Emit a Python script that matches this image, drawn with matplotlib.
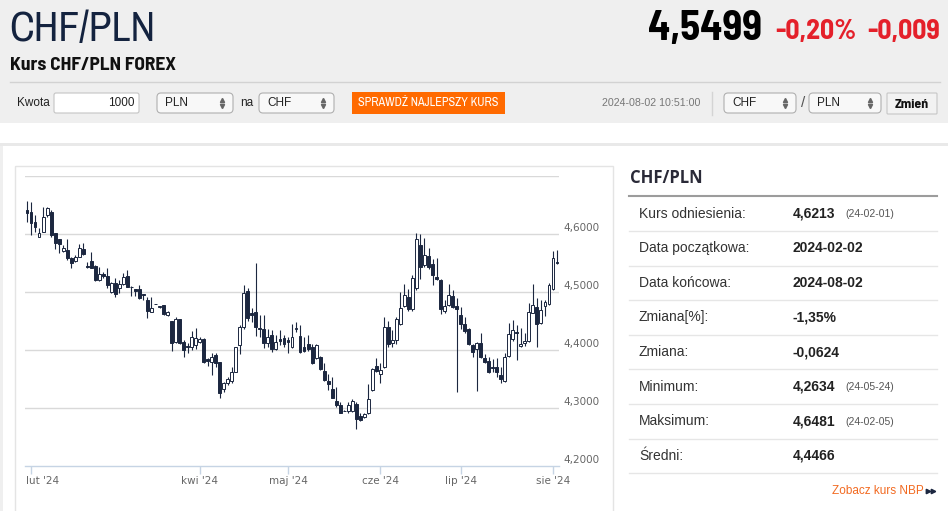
import matplotlib
matplotlib.use('Agg')
import matplotlib.pyplot as plt
from matplotlib.patches import Rectangle, FancyBboxPatch
import numpy as np
import pandas as pd

# ---------------- data ----------------
dates = pd.bdate_range('2024-01-31', '2024-08-02')

opens = [4.6414, 4.6385, 4.6213, 4.5954, 4.6040, 4.6328, 4.6385, 4.6011, 4.5908, 4.5707,
         4.5724, 4.5580, 4.5540, 4.5609, 4.5736, 4.5448, 4.5540, 4.5448, 4.5207, 4.5305,
         4.5276, 4.5006, 4.5161, 4.5063, 4.5138, 4.5276, 4.5092, 4.5046, 4.5046, 4.4960,
         4.4862, 4.4661, 4.4795, 4.4736, 4.4776, 4.4603, 4.4500, 4.4144, 4.4540, 4.4144,
         4.4075, 4.4058, 4.4086, 4.4144, 4.4184, 4.3839, 4.3799, 4.3914, 4.3787, 4.3322,
         4.3437, 4.3471, 4.3626, 4.4086, 4.4391, 4.5023, 4.4644, 4.4649, 4.4374, 4.4362,
         4.4126, 4.4259, 4.4012, 4.4184, 4.4213, 4.4172, 4.4058, 4.4356, 4.4241, 4.4058,
         4.4098, 4.4046, 4.3856, 4.3874, 4.3644, 4.3466, 4.3322, 4.3121, 4.3052, 4.2950,
         4.2954, 4.2948, 4.3069, 4.2862, 4.2851, 4.2908, 4.3310, 4.3724, 4.3586, 4.3713,
         4.4402, 4.4126, 4.4172, 4.4448, 4.4759, 4.4908, 4.4701, 4.5063, 4.5810, 4.5466,
         4.5621, 4.5483, 4.5264, 4.5207, 4.4672, 4.4776, 4.4931, 4.4759, 4.4603, 4.4448,
         4.4356, 4.4086, 4.4012, 4.4126, 4.3868, 4.3810, 4.3713, 4.3701, 4.3569, 4.3471,
         4.3897, 4.4184, 4.4316, 4.4069, 4.4115, 4.4161, 4.4644, 4.4736, 4.4460, 4.4759,
         4.4793, 4.5046, 4.5523]
highs = [4.6569, 4.6546, 4.6328, 4.6098, 4.6471, 4.6471, 4.6414, 4.6023, 4.5920, 4.5810,
         4.5908, 4.5609, 4.5638, 4.5822, 4.5839, 4.5523, 4.5695, 4.5466, 4.5437, 4.5351,
         4.5408, 4.5178, 4.5236, 4.5207, 4.5322, 4.5379, 4.5103, 4.5046, 4.5121, 4.4966,
         4.4908, 4.4920, 4.4800, 4.4765, 4.4776, 4.4678, 4.4500, 4.4575, 4.4540, 4.4172,
         4.4115, 4.4333, 4.4374, 4.4230, 4.4201, 4.3856, 4.3943, 4.3943, 4.3787, 4.3454,
         4.3540, 4.3713, 4.4058, 4.4431, 4.5121, 4.5063, 4.4718, 4.5494, 4.4603, 4.4603,
         4.4362, 4.4345, 4.4259, 4.4345, 4.4259, 4.4230, 4.4448, 4.4489, 4.4431, 4.4230,
         4.4259, 4.4098, 4.4103, 4.3897, 4.3770, 4.3580, 4.3540, 4.3368, 4.3109, 4.2960,
         4.3109, 4.3149, 4.3109, 4.2908, 4.2920, 4.3414, 4.3684, 4.3856, 4.3770, 4.4575,
         4.4506, 4.4345, 4.4575, 4.5006, 4.5138, 4.5046, 4.5293, 4.6011, 4.6000, 4.5925,
         4.5753, 4.5563, 4.5580, 4.5218, 4.4862, 4.5138, 4.5034, 4.4891, 4.4736, 4.4575,
         4.4374, 4.4103, 4.4144, 4.4287, 4.3925, 4.3885, 4.3839, 4.3856, 4.3713, 4.3943,
         4.4460, 4.4517, 4.4431, 4.4374, 4.4299, 4.4805, 4.5138, 4.4891, 4.4862, 4.4862,
         4.5161, 4.5713, 4.5724]
lows = [4.6213, 4.5983, 4.6040, 4.5943, 4.6029, 4.6299, 4.5954, 4.5736, 4.5667, 4.5695,
        4.5552, 4.5408, 4.5523, 4.5598, 4.5638, 4.5420, 4.5408, 4.5195, 4.5195, 4.5236,
        4.5063, 4.4989, 4.4920, 4.4977, 4.5121, 4.5080, 4.4931, 4.4931, 4.4874, 4.4862,
        4.4558, 4.4649, 4.4785, 4.4730, 4.4603, 4.4586, 4.3989, 4.4115, 4.4103, 4.3885,
        4.3943, 4.4000, 4.4012, 4.4115, 4.3782, 4.3730, 4.3569, 4.3713, 4.3167, 4.3282,
        4.3397, 4.3425, 4.3615, 4.3931, 4.4356, 4.4506, 4.4489, 4.4241, 4.4218, 4.4029,
        4.4046, 4.3971, 4.4000, 4.4086, 4.4058, 4.3943, 4.4029, 4.4316, 4.3954, 4.3971,
        4.3989, 4.3753, 4.3839, 4.3655, 4.3471, 4.3310, 4.3167, 4.3023, 4.2908, 4.2940,
        4.2908, 4.2931, 4.2634, 4.2782, 4.2822, 4.2897, 4.3299, 4.3626, 4.3425, 4.3684,
        4.4058, 4.4046, 4.4098, 4.4431, 4.4736, 4.4678, 4.4678, 4.5034, 4.5218, 4.5425,
        4.5391, 4.5121, 4.5207, 4.4621, 4.4644, 4.4759, 4.4718, 4.3282, 4.4356, 4.4299,
        4.4086, 4.3885, 4.3299, 4.3856, 4.3782, 4.3609, 4.3626, 4.3540, 4.3425, 4.3454,
        4.3885, 4.4161, 4.3828, 4.4057, 4.4069, 4.4144, 4.4632, 4.4046, 4.4448, 4.4586,
        4.4776, 4.5034, 4.5483]
closes = [4.6356, 4.6184, 4.6115, 4.6011, 4.6299, 4.6443, 4.5983, 4.5839, 4.5828, 4.5753,
          4.5580, 4.5494, 4.5609, 4.5753, 4.5655, 4.5425, 4.5420, 4.5207, 4.5305, 4.5276,
          4.5121, 4.5161, 4.4966, 4.5132, 4.5264, 4.5092, 4.5080, 4.5023, 4.4891, 4.4943,
          4.4678, 4.4718, 4.4790, 4.4759, 4.4621, 4.4661, 4.4115, 4.4540, 4.4115, 4.4000,
          4.4046, 4.4230, 4.4201, 4.4184, 4.3799, 4.3805, 4.3885, 4.3770, 4.3253, 4.3437,
          4.3494, 4.3626, 4.4046, 4.4402, 4.4989, 4.4546, 4.4603, 4.4391, 4.4362, 4.4115,
          4.4230, 4.4012, 4.4144, 4.4161, 4.4103, 4.4144, 4.4218, 4.4385, 4.3971, 4.3983,
          4.4012, 4.3770, 4.4086, 4.3667, 4.3483, 4.3414, 4.3178, 4.3052, 4.2920, 4.2948,
          4.3052, 4.3121, 4.2805, 4.2793, 4.2897, 4.3149, 4.3667, 4.3644, 4.3655, 4.4402,
          4.4103, 4.4172, 4.4529, 4.4718, 4.4948, 4.4701, 4.5236, 4.5908, 4.5437, 4.5638,
          4.5425, 4.5293, 4.5218, 4.4701, 4.4759, 4.4948, 4.4736, 4.4701, 4.4448, 4.4333,
          4.4103, 4.3971, 4.4126, 4.3885, 4.3799, 4.3626, 4.3690, 4.3626, 4.3494, 4.3874,
          4.4276, 4.4345, 4.4287, 4.4103, 4.4161, 4.4661, 4.4776, 4.4448, 4.4690, 4.4833,
          4.5121, 4.5580, 4.5499]

y_ticks = [4.2, 4.3, 4.4, 4.5, 4.6, 4.7]
y_labeled = [4.2, 4.3, 4.4, 4.5, 4.6]
month_names = {1: 'sty', 2: 'lut', 3: 'mar', 4: 'kwi', 5: 'maj', 6: 'cze',
               7: 'lip', 8: 'sie'}
shown_months = [2, 4, 5, 6, 7, 8]

pair = 'CHF/PLN'
last_price = '4,5499'
change_pct = '-0,20%'
change_abs = '-0,009'
timestamp = '2024-08-02 10:51:00'

stat_labels = ['Kurs odniesienia:', 'Data początkowa:', 'Data końcowa:', 'Zmiana[%]:',
               'Zmiana:', 'Minimum:', 'Maksimum:', 'Średni:']
stat_values = ['4,6213', '2024-02-02', '2024-08-02', '-1,35%', '-0,0624', '4,2634',
               '4,6481', '4,4466']
stat_notes = ['(24-02-01)', '', '', '', '', '(24-05-24)', '(24-02-05)', '']

assert len(opens) == len(highs) == len(lows) == len(closes) == len(dates)

# ---------------- styles ----------------
W, H = 948, 511
NARROW = ['Archivo Narrow', 'Liberation Sans', 'DejaVu Sans']
BOLDN = ['Barlow Semi Condensed', 'Liberation Sans', 'DejaVu Sans']
ARIAL = ['Liberation Sans', 'DejaVu Sans']
DARK = '#1c2740'
ORANGE = '#ff6a00'
RED = '#e4202a'

fig = plt.figure(figsize=(W / 100, H / 100), dpi=100)
fig.patch.set_facecolor('white')

bg = fig.add_axes([0, 0, 1, 1])
bg.set_xlim(0, W)
bg.set_ylim(H, 0)
bg.axis('off')

# header background
bg.add_patch(Rectangle((0, 0), W, 123, fc='#efefef', ec='none'))
bg.add_patch(Rectangle((0, 143), W, 3, fc='#e9e9e9', ec='none'))
bg.add_patch(Rectangle((0, 146), 3, H - 146, fc='#efefef', ec='none'))
bg.add_patch(Rectangle((15, 166), 598, 400, fill=False, ec='#e4e4e4', lw=1))

bg.text(9, 29, pair, family=NARROW, fontsize=30, color='#14233f', va='center', ha='left')
bg.text(762, 29, last_price, family=BOLDN, fontsize=29.5, fontweight='bold', color='#000000',
        va='center', ha='right')
bg.text(857, 31, change_pct, family=BOLDN, fontsize=20, fontweight='bold', color=RED,
        va='center', ha='right')
bg.text(940, 31, change_abs, family=BOLDN, fontsize=20, fontweight='bold', color=RED,
        va='center', ha='right')
bg.text(10, 66, 'Kurs CHF/PLN FOREX', family=BOLDN, fontsize=14, fontweight='bold',
        color='#111111', va='center', ha='left')
bg.plot([10, 940], [82.5, 82.5], color='#d2d2d2', lw=1)

# controls row
def select_box(x0, x1, label):
    bg.add_patch(FancyBboxPatch((x0, 93), x1 - x0, 20,
                                boxstyle='round,pad=0,rounding_size=4',
                                fc='#f8f8f8', ec='#b0b0b0', lw=0.8))
    bg.text(x0 + 8, 103, label, family=ARIAL, fontsize=8.5, color='#222222',
            va='center', ha='left')
    bg.plot([x1 - 11], [100.5], marker='^', ms=3, color='#666666', lw=0)
    bg.plot([x1 - 11], [106], marker='v', ms=3, color='#666666', lw=0)

bg.text(17, 103.5, 'Kwota', family=ARIAL, fontsize=8.5, color='#222222', va='center')
bg.add_patch(FancyBboxPatch((54, 93), 85, 20, boxstyle='round,pad=0,rounding_size=2',
                            fc='white', ec='#c4c4c4', lw=0.8))
bg.text(135, 103.5, '1000', family=ARIAL, fontsize=8.5, color='#222222', va='center',
        ha='right')
select_box(157, 233, 'PLN')
bg.text(240, 103.5, 'na', family=ARIAL, fontsize=8.5, color='#222222', va='center')
select_box(259, 334, 'CHF')
bg.add_patch(Rectangle((352, 92), 153, 22, fc=ORANGE, ec='none'))
bg.text(428.5, 103, 'SPRAWDŹ NAJLEPSZY KURS', family=NARROW, fontsize=8.8, color='white',
        va='center', ha='center')
bg.text(602, 103.5, timestamp, family=ARIAL, fontsize=7.7, color='#777777', va='center')
bg.plot([712, 712], [92, 115], color='#d4d4d4', lw=1)
select_box(724, 796, 'CHF')
bg.text(803, 103, '/', family=ARIAL, fontsize=11, color='#555555', va='center', ha='center')
select_box(809, 881, 'PLN')
bg.add_patch(FancyBboxPatch((887, 93), 50, 21, boxstyle='round,pad=0,rounding_size=1',
                            fc='#f2f2f2', ec='#c6c6c6', lw=0.8))
bg.text(912, 104, 'Zmień', family=BOLDN, fontsize=10, fontweight='bold', color='#111111',
        va='center', ha='center')

# right statistics panel
bg.text(630, 178, pair, family=['Open Sans', 'DejaVu Sans'], fontsize=12, fontweight='bold',
        color='#2a2a38', va='center', ha='left')
bg.plot([629, 937], [196.5, 196.5], color='#9c9c9c', lw=1.5)
for k, (lab, val, note) in enumerate(zip(stat_labels, stat_values, stat_notes)):
    yc = 213.7 + 34.6 * k
    bg.text(639, yc, lab, family=ARIAL, fontsize=10, color='#333333', va='center')
    bg.text(793, yc, val, family=ARIAL, fontsize=10, fontweight='bold', color='#222222',
            va='center')
    if note:
        bg.text(845, yc + 0.5, note, family=ARIAL, fontsize=7.5, color='#555555',
                va='center')
    bg.plot([629, 937], [231 + 34.6 * k] * 2, color='#e6e6e6', lw=1)
bg.text(924, 491, 'Zobacz kurs NBP', family=ARIAL, fontsize=8.5, color='#f26a21',
        va='center', ha='right')
bg.plot([928.5, 933], [491, 491], marker='>', ms=3.2, color=DARK, lw=0)

# ---------------- candlestick chart ----------------
ax = fig.add_axes([25 / W, 1 - 466 / H, 534 / W, 290 / H])
ax.patch.set_alpha(0)
n = len(dates)
x = np.arange(n)
o = np.array(opens)
h = np.array(highs)
l = np.array(lows)
c = np.array(closes)

ax.set_xlim(-0.5, n - 0.5)
ax.set_ylim(4.2, 4.7)
for v in y_ticks[1:]:
    ax.axhline(v, color='#d9d9d9', lw=1, zorder=0)

up = c >= o
ax.vlines(x, l, h, color=DARK, lw=0.8, zorder=2)
body_bottom = np.minimum(o, c)
body_h = np.maximum(np.abs(c - o), 0.0007)
ax.bar(x[up], body_h[up], bottom=body_bottom[up], width=0.72, color='white',
       edgecolor=DARK, linewidth=0.7, zorder=3)
ax.bar(x[~up], body_h[~up], bottom=body_bottom[~up], width=0.72, color=DARK,
       edgecolor=DARK, linewidth=0.7, zorder=3)

for s in ['top', 'left', 'right']:
    ax.spines[s].set_visible(False)
ax.spines['bottom'].set_color('#c6d4e4')
ax.spines['bottom'].set_linewidth(1)
ax.set_yticks([])

month_pos = [i for i in range(1, n)
             if dates[i].month != dates[i - 1].month and dates[i].month in shown_months]
ax.set_xticks(month_pos)
ax.set_xticklabels([])
ax.tick_params(axis='x', length=5.8, width=1, color='#c6d4e4', direction='out')
for j, i in enumerate(month_pos):
    lab = f"{month_names[dates[i].month]} '{dates[i].strftime('%y')}"
    if j == 0:
        ax.annotate(lab, xy=(-0.5, 0), xycoords=('data', 'axes fraction'), xytext=(1, -10.6),
                    textcoords='offset points', ha='left', va='center', fontsize=7.5,
                    color='#666666', family='DejaVu Sans')
    else:
        ax.annotate(lab, xy=(i, 0), xycoords=('data', 'axes fraction'), xytext=(0, -10.6),
                    textcoords='offset points', ha='center', va='center', fontsize=7.5,
                    color='#666666', family='DejaVu Sans')

for v in y_labeled:
    ax.annotate(f"{v:.4f}".replace('.', ','), xy=(1, v), xycoords=('axes fraction', 'data'),
                xytext=(3, 4.3), textcoords='offset points', ha='left', va='center',
                fontsize=7.5, color='#666666', family='DejaVu Sans', annotation_clip=False)

fig.savefig('out.png', dpi=100)
